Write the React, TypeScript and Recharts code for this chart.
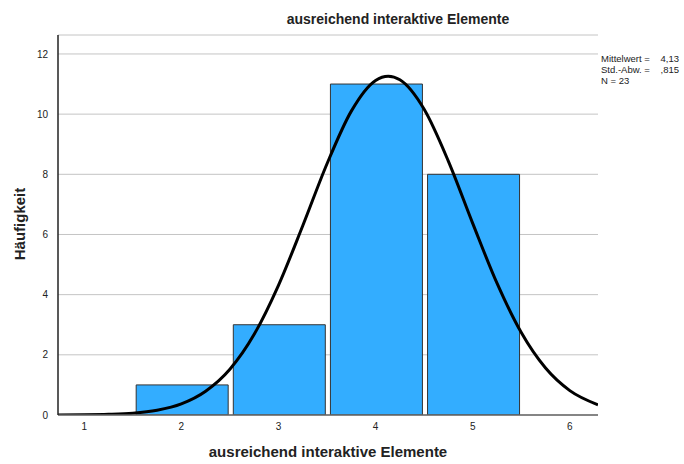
import * as React from "react";
import {
  ComposedChart,
  Bar,
  Line,
  XAxis,
  YAxis,
  CartesianGrid,
  Rectangle,
} from "recharts";

// histogram counts per answer value
const barX = [2, 3, 4, 5];
const barCounts = [1, 3, 11, 8];

// normal curve (mean 4,13, sd ,815, N 23)
const curveX = [
  0.73, 1, 1.25, 1.5, 1.75, 2, 2.25, 2.5, 2.75, 3, 3.25, 3.5, 3.75, 4, 4.13,
  4.25, 4.5, 4.75, 5, 5.25, 5.5, 5.75, 6, 6.29,
];
const curveY = [
  0.002, 0.007, 0.022, 0.06, 0.16, 0.37, 0.79, 1.52, 2.68, 4.31, 6.29, 8.35,
  10.1, 11.12, 11.26, 11.14, 10.16, 8.43, 6.37, 4.38, 2.74, 1.56, 0.81, 0.34,
];

const xTicks = [1, 2, 3, 4, 5, 6];
const yTicks = [0, 2, 4, 6, 8, 10, 12];

const stats = [
  ["Mittelwert =", "4,13"],
  ["Std.-Abw. =", ",815"],
  ["N = 23", ""],
];

const data = curveX.map((x, i) => {
  const bi = barX.indexOf(x);
  return { x, curve: curveY[i], count: bi >= 0 ? barCounts[bi] : null };
});

const font = "'Liberation Sans', Arial, sans-serif";
const tick = { fill: "#222", fontSize: 10, fontFamily: font };

// bars on a numeric axis: widen each to nearly one unit around its centre
const BAR_W = 92;
function BarShape(props: any) {
  if (props.payload?.count == null) return null;
  const cx = props.x + props.width / 2 + 1;
  return <Rectangle {...props} x={cx - BAR_W / 2} width={BAR_W} />;
}

export default function App() {
  return (
    <div style={{ position: "relative", width: 684, height: 464, background: "#fff", fontFamily: font }}>
      <style>{`body{margin:0}`}</style>
      <ComposedChart
        width={684}
        height={464}
        data={data}
        margin={{ top: 35, right: 86, bottom: 19, left: 0 }}
      >
        <CartesianGrid vertical={false} stroke="#c4c4c4" strokeWidth={1} />
        <XAxis
          dataKey="x"
          type="number"
          domain={[0.73, 6.29]}
          allowDataOverflow
          ticks={xTicks}
          tickLine={false}
          axisLine={{ stroke: "#666", strokeWidth: 1.5 }}
          tick={tick}
          tickMargin={2}
          height={30}
        />
        <YAxis
          type="number"
          domain={[0, 12.63]}
          allowDataOverflow
          ticks={yTicks}
          tickLine={false}
          axisLine={{ stroke: "#222", strokeWidth: 1.5 }}
          tick={tick}
          width={58}
          tickMargin={4}
        />
        <Bar
          dataKey="count"
          fill="#33adff"
          stroke="#333"
          strokeWidth={1}
          shape={BarShape}
          isAnimationActive={false}
        />
        <Line
          dataKey="curve"
          type="monotone"
          stroke="#000"
          strokeWidth={3}
          dot={false}
          activeDot={false}
          isAnimationActive={false}
        />
      </ComposedChart>
      <div
        style={{
          position: "absolute",
          top: 11,
          left: 0,
          width: 796,
          textAlign: "center",
          fontSize: 14,
          fontWeight: "bold",
          color: "#222",
        }}
      >
        ausreichend interaktive Elemente
      </div>
      <div
        style={{
          position: "absolute",
          left: 328,
          top: 443,
          transform: "translateX(-50%)",
          whiteSpace: "nowrap",
          fontSize: 15,
          fontWeight: "bold",
          color: "#222",
        }}
      >
        ausreichend interaktive Elemente
      </div>
      <div
        style={{
          position: "absolute",
          left: 19,
          top: 224,
          transform: "translate(-50%, -50%) rotate(-90deg)",
          whiteSpace: "nowrap",
          fontSize: 15,
          fontWeight: "bold",
          color: "#222",
        }}
      >
        Häufigkeit
      </div>
      <div
        style={{
          position: "absolute",
          left: 601,
          top: 53,
          fontSize: 9.5,
          lineHeight: "11px",
          color: "#222",
        }}
      >
        {stats.map(([a, b]) => (
          <div key={a} style={{ display: "flex" }}>
            <span style={{ width: 56 }}>{a}</span>
            <span style={{ width: 22, textAlign: "right" }}>{b}</span>
          </div>
        ))}
      </div>
    </div>
  );
}
